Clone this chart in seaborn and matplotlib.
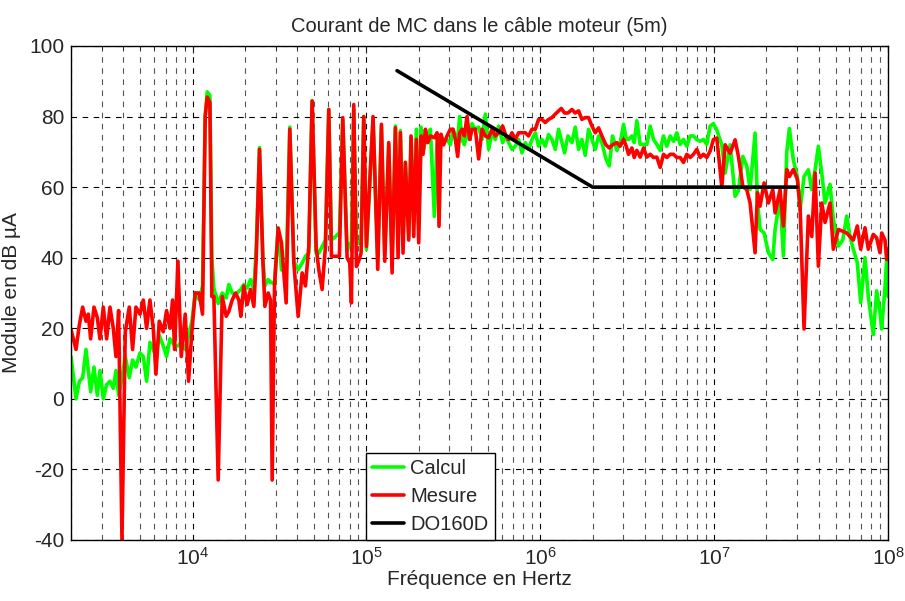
import numpy as np
import pandas as pd
import seaborn as sns
import matplotlib.pyplot as plt
from matplotlib.ticker import LogLocator, NullFormatter, MultipleLocator

# Frequencies (Hz) shared by both traces
freq_hz = [
    2.00e3, 2.136e3, 2.233e3, 2.333e3, 2.438e3, 2.514e3, 2.593e3, 2.710e3, 2.832e3, 2.934e3,
    3.066e3, 3.204e3, 3.349e3, 3.500e3, 3.626e3, 3.756e3, 3.926e3, 4.102e3, 4.325e3, 4.520e3,
    4.723e3, 4.981e3, 5.206e3, 5.441e3, 5.686e3, 5.941e3, 6.156e3, 6.433e3, 6.782e3, 7.088e3,
    7.407e3, 7.675e3, 7.881e3, 8.236e3, 8.608e3, 9.076e3, 9.484e3, 9.91e3, 1.036e4, 1.092e4,
    1.141e4, 1.182e4, 1.214e4, 1.258e4, 1.291e4,
    1.326e4, 1.404e4, 1.481e4, 1.561e4, 1.617e4, 1.690e4, 1.766e4, 1.846e4, 1.896e4, 1.972e4,
    2.062e4, 2.154e4, 2.252e4, 2.322e4, 2.427e4, 2.537e4, 2.605e4, 2.723e4, 2.808e4, 2.870e4,
    2.960e4, 3.107e4, 3.247e4, 3.454e4, 3.626e4, 3.823e4, 4.049e4, 4.269e4, 4.461e4, 4.662e4,
    4.872e4, 5.137e4, 5.322e4, 5.562e4, 5.812e4, 6.074e4, 6.293e4, 6.633e4, 6.993e4, 7.311e4,
    7.743e4, 8.021e4, 8.200e4, 8.457e4, 8.761e4, 9.077e4, 9.318e4, 9.654e4, 1.000e5, 1.092e5,
    1.162e5, 1.220e5, 1.275e5, 1.344e5, 1.405e5, 1.468e5, 1.521e5, 1.568e5, 1.624e5, 1.675e5,
    1.751e5, 1.806e5, 1.871e5, 1.938e5, 1.999e5, 2.062e5, 2.117e5, 2.184e5, 2.252e5, 2.333e5,
    2.459e5, 2.547e5, 2.616e5, 2.686e5, 2.782e5, 2.908e5, 3.040e5, 3.148e5, 3.247e5, 3.349e5,
    3.439e5, 3.547e5, 3.658e5, 3.790e5, 3.926e5, 4.049e5, 4.231e5, 4.422e5,
    4.622e5, 4.830e5, 5.048e5, 5.276e5, 5.514e5, 5.762e5, 6.075e5, 6.349e5, 6.577e5, 6.874e5,
    7.184e5, 7.508e5, 7.846e5, 8.200e5, 8.569e5, 8.956e5, 9.360e5, 9.782e5, 1.022e6, 1.068e6,
    1.117e6, 1.167e6, 1.220e6, 1.275e6, 1.320e6, 1.380e6, 1.442e6, 1.521e6, 1.589e6, 1.661e6,
    1.736e6, 1.814e6, 1.896e6, 1.982e6, 2.071e6, 2.164e6, 2.262e6, 2.385e6, 2.492e6, 2.605e6,
    2.758e6, 2.883e6, 3.013e6, 3.121e6, 3.219e6, 3.364e6, 3.470e6, 3.594e6, 3.756e6, 3.926e6,
    4.102e6, 4.287e6, 4.480e6, 4.683e6, 4.894e6, 5.114e6, 5.346e6, 5.586e6, 5.839e6, 6.102e6,
    6.377e6, 6.665e6, 6.966e6, 7.279e6, 7.608e6, 7.950e6, 8.309e6, 8.683e6, 9.075e6, 9.484e6,
    9.91e6, 1.036e7, 1.107e7, 1.157e7, 1.236e7, 1.320e7, 1.380e7, 1.462e7, 1.541e7, 1.610e7,
    1.720e7, 1.774e7, 1.838e7, 1.938e7, 2.052e7, 2.175e7, 2.242e7, 2.395e7, 2.502e7, 2.617e7,
    2.709e7, 2.856e7, 3.011e7, 3.121e7, 3.290e7, 3.483e7, 3.643e7, 3.807e7, 3.977e7, 4.159e7,
    4.345e7, 4.642e7, 4.849e7, 5.181e7, 5.492e7, 5.789e7, 6.047e7, 6.317e7, 6.660e7, 6.966e7,
    7.375e7, 7.705e7, 8.232e7, 8.610e7, 8.995e7, 9.200e7, 9.612e7, 9.829e7, 1.0e8,
]

# Calcul (green) in dB uA
calcul_db = [
    12, 0, 5, 6, 14, 8, 2, 9, 1, 8,
    0, 4, 5, 3, 8, 1, 6, 12, 6, 11,
    9, 13, 12, 5, 16, 14, 12, 18, 15, 12,
    17, 16, 15, 15, 16, 14, 18, 22, 30, 28,
    32, 80, 87, 86, 40,
    31.4, 27, 30, 28.6, 32.4, 30, 29.5, 30.5, 31, 32.4,
    31.4, 33.8, 31, 42.3, 71.2, 40, 32, 33.8, 33, 33,
    32.4, 48.4, 36.6, 35.7, 77, 39, 36.6, 38.5, 40.4, 41.3,
    84.5, 41.3, 41.3, 43.2, 45, 82, 45, 46, 47, 79,
    42, 44, 44, 82, 45, 44, 45, 80, 42.3, 79,
    40, 77, 41, 72, 40, 77.3, 44, 76, 45, 67,
    46, 74, 50, 76.4, 48, 77, 70, 73, 75, 76.4,
    51.7, 72, 74, 74.5, 73, 73.5, 72, 76.4, 74.5, 73.5,
    80, 73.5, 72, 75.4, 73.5, 78, 76.4, 77,
    73.5, 80.7, 70.7, 75.4, 73.5, 77.3, 72.6, 74.5, 72.6, 70.7,
    71.6, 73.5, 69.7, 72.6, 70.7, 73.5, 75.4, 71.6, 73.5, 71.6,
    74.9, 73.5, 70.7, 76.4, 73.5, 69.7, 74.5, 72.6, 77, 70.7,
    73.5, 69, 76.4, 73.5, 70.7, 74.5, 72.6, 68, 66, 74.5,
    70.4, 72.6, 77.8, 73.5, 73.5, 74.5, 72.6, 78.8, 72.1, 72.1,
    72.1, 77.3, 73.5, 72.1, 70.4, 74.5, 71.6, 74.5, 73, 75.4,
    72.1, 73.5, 71.6, 74.5, 74.5, 73.5, 73, 73.5, 72.1, 77.3,
    78, 76.2, 72, 64, 72, 57.4, 59, 68.7, 66, 59.3,
    75.3, 56.5, 48, 47, 41.4, 39.5, 48, 57.4, 40.5, 70,
    76.6, 67.7, 63, 53.6, 63, 64.9, 59.3, 64.9, 71.6, 64,
    55.5, 60.8, 50.9, 43.3, 45, 51.8, 46, 42.4, 38.6, 27.3,
    40, 29, 18.2, 30.6, 24.5, 19.8, 31.6, 39.5, 29,
]

# Mesure (red) in dB uA
mesure_db = [
    19.6, 14, 21, 26, 22, 24, 17, 26, 23, 17,
    26, 17, 26, 20, 12, 25, -40, 19, 26, 14,
    26, 24, 28, 20, 28, 20, 7, 22, 19, 25,
    20, 28, 14, 39, 12, 24, 5, 19, 30, 30,
    24, 80, 85.5, 84, 29,
    29, -23, 29, 23.4, 24.8, 28, 30, 28, 23.4, 32,
    26.7, 31, 26.2, 39.4, 70.7, 39.4, 26.2, 30, 28, -23,
    32, 48.4, 44.2, 27.2, 76.4, 38.5, 23.4, 35.7, 32, 43.2,
    84.4, 43.2, 36.6, 31, 43.2, 82, 40.4, 40.4, 40.4, 79.7,
    40, 38.5, 27.2, 83.4, 37.5, 39.4, 41.3, 80, 43.2, 80,
    36.7, 77.8, 39, 72.6, 35.7, 76.8, 40, 75.4, 41.3, 67,
    45, 74.5, 46, 73.5, 44.2, 74.5, 69.3, 76.4, 72.6, 74.5,
    74, 75.4, 48.9, 75, 72, 74.5, 76.4, 76.4, 73.5, 68.7,
    75.4, 76.4, 74.5, 80, 73.5, 76.4, 76.4, 68,
    76.4, 74.5, 74, 76.4, 74.5, 75.4, 77.3, 74.5, 73.5, 75.4,
    73.5, 75.4, 75.4, 75.4, 74.5, 76.4, 76.4, 79.2, 79.2, 78.3,
    79.2, 79.7, 80.7, 81.6, 82.3, 81, 81, 82, 81, 81.6,
    79.2, 79.7, 79.7, 77.3, 75.4, 76.8, 74.5, 72, 71.1, 72,
    72.6, 71.6, 73.5, 71.6, 69.3, 71.1, 68.4, 70.4, 68.5, 71.1,
    68.5, 69.3, 68.4, 68.5, 65.6, 69.3, 68.4, 69.3, 69.3, 68.4,
    68.4, 67, 69.3, 68.4, 69.3, 70.7, 68.4, 69.3, 68.4, 70.2,
    73.5, 73.9, 60, 72, 69.6, 73.4, 68.7, 60.2, 59.3, 55.5,
    41.4, 58.4, 54.6, 61.2, 55.5, 59.3, 52.7, 59.3, 49, 65,
    63, 65, 62.2, 54.6, 19.8, 51.8, 46, 64, 37.6, 55.5,
    50, 55.5, 42.4, 48, 47.5, 47, 46, 45, 49, 42.4,
    48.5, 42.4, 46.6, 45.6, 41.4, 47, 45, 39.5, 42.4,
]

# DO160D limit
do160_freq = [1.5e5, 2e6, 3e7]
do160_db = [93, 60, 60]

plt.figure(figsize=(9.05, 6.01), dpi=100)
sns.set_style("white")
plt.rcParams['font.family'] = ['Liberation Sans', 'DejaVu Sans']
plt.rcParams['font.size'] = 14
plt.rcParams['axes.unicode_minus'] = False
plt.rcParams['mathtext.fontset'] = 'custom'
plt.rcParams['mathtext.rm'] = 'Liberation Sans'

ax = plt.gca()
ax.set_position([0.0785, 0.1015, 0.9027, 0.822])

sns.lineplot(x=freq_hz, y=calcul_db, color='#00ff00', lw=2.6, label='Calcul',
             estimator=None, sort=False, ax=ax)
sns.lineplot(x=freq_hz, y=mesure_db, color='#ff0000', lw=2.6, label='Mesure',
             estimator=None, sort=False, ax=ax)
sns.lineplot(x=do160_freq, y=do160_db, color='black', lw=2.6, label='DO160D',
             estimator=None, sort=False, ax=ax)

ax.set_xscale('log')
ax.set_xlim(2e3, 1e8)
ax.set_ylim(-40, 100)
ax.yaxis.set_major_locator(MultipleLocator(20))
ax.xaxis.set_major_locator(LogLocator(base=10))
ax.xaxis.set_minor_locator(LogLocator(base=10, subs=np.arange(2, 10)))
ax.xaxis.set_minor_formatter(NullFormatter())

# dashed grid like the MATLAB figure
ax.grid(True, which='major', axis='both', color='black', ls=(0, (5, 5)), lw=0.8)
ax.grid(True, which='minor', axis='x', color='#555555', ls=(0, (5, 5)), lw=0.8)
ax.set_axisbelow(True)

ax.tick_params(which='both', direction='in', top=True, right=True, labelsize=15)
ax.tick_params(which='major', length=5, pad=5)
ax.tick_params(which='minor', length=3)
for s in ax.spines.values():
    s.set_color('black')
    s.set_linewidth(1.0)

ax.set_title('Courant de MC dans le câble moteur (5m)', fontsize=14.5, pad=10)
ax.set_xlabel('Fréquence en Hertz', fontsize=15, labelpad=1)
ax.set_ylabel('Module en dB µA', fontsize=15, labelpad=6)

leg = ax.legend(loc='lower left', bbox_to_anchor=(0.361, 0.0), borderaxespad=0,
                fancybox=False, framealpha=1, edgecolor='black', fontsize=14.5,
                handlelength=1.6, handletextpad=0.3, borderpad=0.3, labelspacing=0.45)
leg.get_frame().set_linewidth(1.0)

plt.savefig('out.png', dpi=100)
